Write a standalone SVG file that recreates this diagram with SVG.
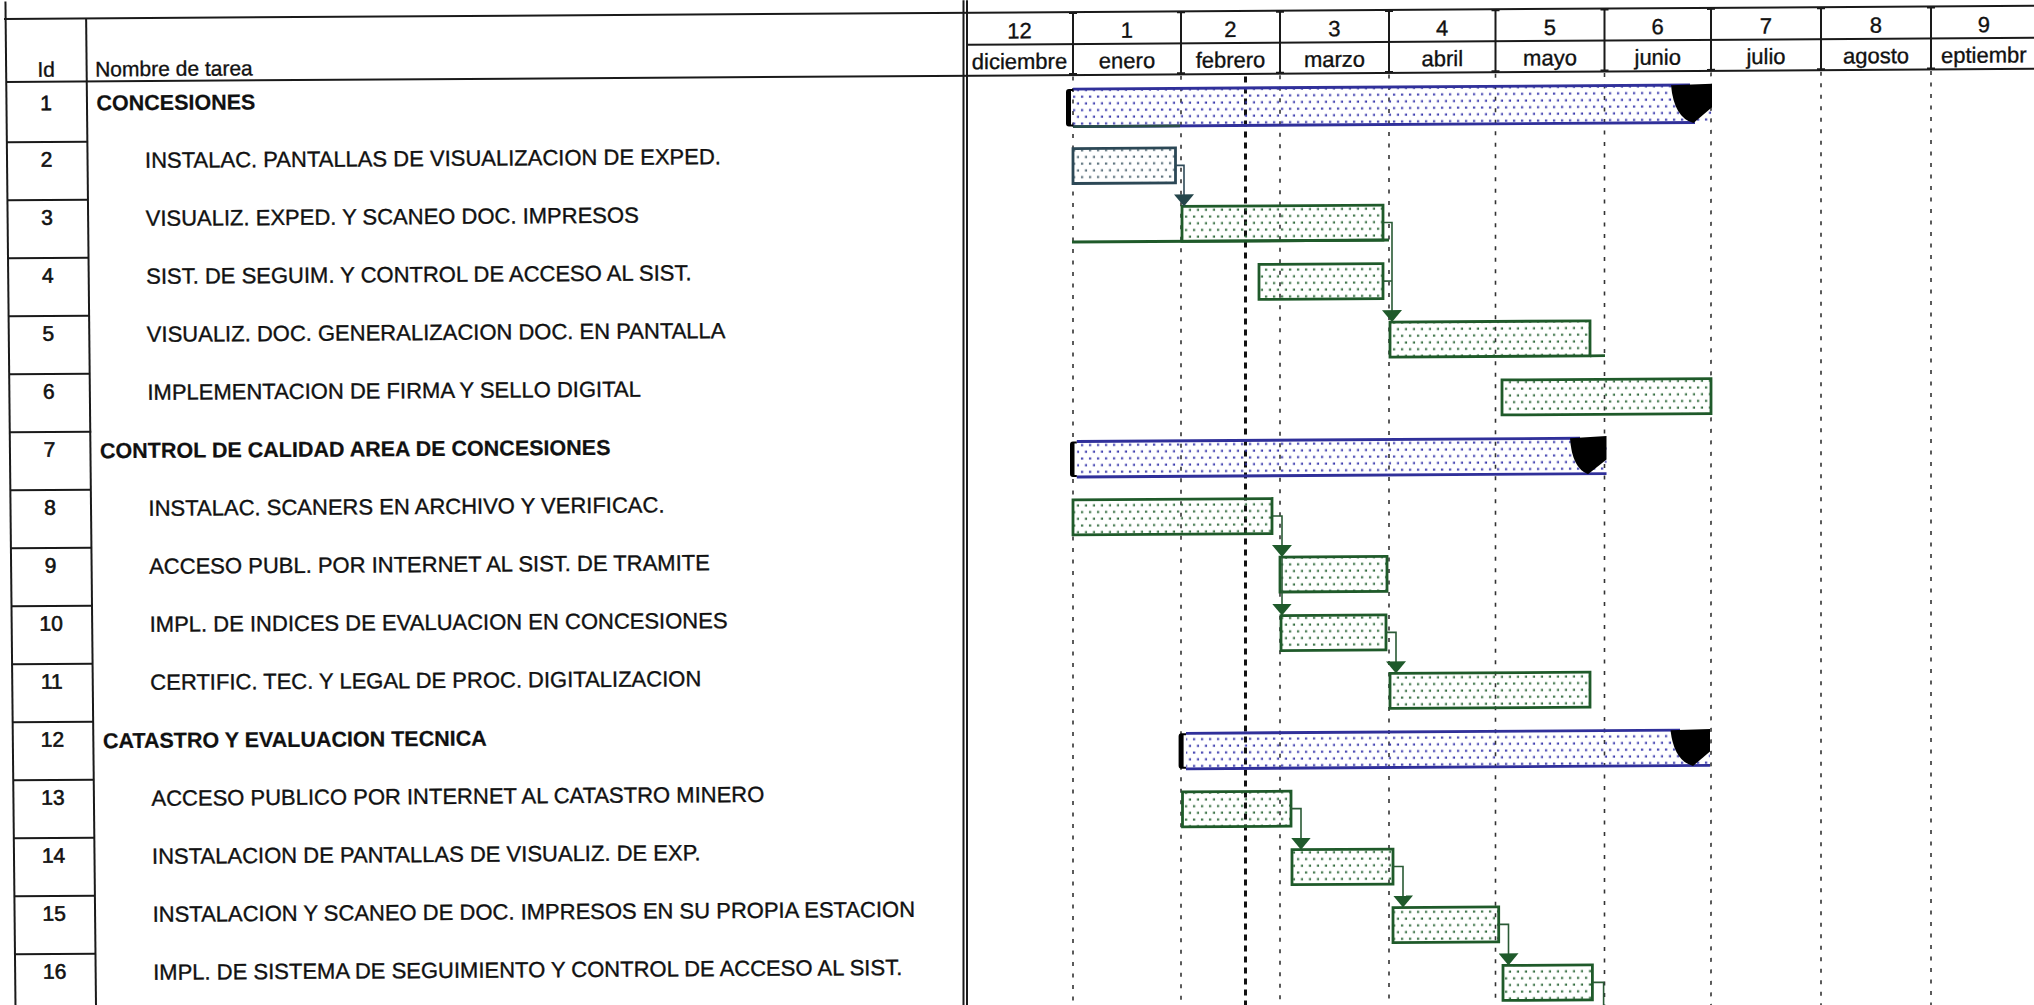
<svg xmlns="http://www.w3.org/2000/svg" width="2034" height="1005" viewBox="0 0 2034 1005">
<style>
text{font-family:"Liberation Sans",Arial,sans-serif;fill:#111;stroke:#111;stroke-width:0.35}
.hd{font-size:22px;text-anchor:middle}
.hl{font-size:21px}
.id{font-size:21px;text-anchor:middle;stroke-width:0.6}
.t{font-size:22px}
.s{font-size:21.5px;font-weight:bold;stroke-width:0.2}
.ln{stroke:#1a1a1a;stroke-width:2;fill:none}
.grid{stroke:#333;stroke-width:1.6;stroke-dasharray:4 7.5;fill:none}
.today{stroke:#111;stroke-width:3;stroke-dasharray:6 5;fill:none}
.bar{fill:url(#dg);stroke:#1f5a2a;stroke-width:2.8}
.bar2{fill:url(#ds);stroke:#2c4856;stroke-width:2.8}
.sum{fill:url(#db)}
.sumln{stroke:#30309a;stroke-width:2.8;fill:none}
.cap{fill:#000}
</style>
<defs>
<pattern id="dg" width="8" height="13.4" patternUnits="userSpaceOnUse">
<rect x="1" y="2.4" width="2.1" height="2.1" fill="#2a6636"/>
<rect x="5" y="9.1" width="2.1" height="2.1" fill="#2a6636"/>
</pattern>
<pattern id="ds" width="8" height="13.4" patternUnits="userSpaceOnUse">
<rect x="1" y="2.4" width="2.1" height="2.1" fill="#4a626e"/>
<rect x="5" y="9.1" width="2.1" height="2.1" fill="#4a626e"/>
</pattern>
<pattern id="db" width="8" height="13.4" patternUnits="userSpaceOnUse">
<rect x="1" y="2.4" width="2.1" height="2.1" fill="#3434aa"/>
<rect x="5" y="9.1" width="2.1" height="2.1" fill="#3434aa"/>
</pattern>
<marker id="arr" viewBox="0 0 12 20" markerWidth="12" markerHeight="20" refX="12" refY="10" orient="auto" markerUnits="userSpaceOnUse">
<path d="M0,0 L12,10 L0,20 Z" fill="#1f5a2b"/>
</marker>
<marker id="arrS" viewBox="0 0 12 20" markerWidth="12" markerHeight="20" refX="12" refY="10" orient="auto" markerUnits="userSpaceOnUse">
<path d="M0,0 L12,10 L0,20 Z" fill="#24454a"/>
</marker>
</defs>
<rect width="2034" height="1005" fill="#fff"/>
<g transform="translate(0,6.5) skewY(-0.3724)">

<g id="grid">
<path class="grid" d="M1073,77V1015M1181,77V1015M1280,77V1015M1389,77V1015M1495.5,77V1015M1604.5,77V1015M1711,77V1015M1821,77V1015M1931,77V1015"/>
<path class="today" d="M1245.5,78V1015"/>
</g>

<g id="header">
<path class="ln" d="M4,12.5H2040"/>
<path class="ln" d="M966,44.5H2040"/>
<path class="ln" stroke-width="2.5" d="M6,75.5H2040"/>
<path class="ln" stroke-width="1.5" d="M963.5,0V1015"/>
<path class="ln" d="M967,0V1015"/>
<path class="ln" d="M1073,12.5V75.5M1181,12.5V75.5M1280,12.5V75.5M1389,12.5V75.5M1495.5,12.5V75.5M1604.5,12.5V75.5M1711,12.5V75.5M1821,12.5V75.5M1931,12.5V75.5"/>
<path class="ln" d="M1069,13.5h8M1177,13.5h8M1276,13.5h8M1385,13.5h8M1491.5,13.5h8M1600.5,13.5h8M1707,13.5h8M1817,13.5h8M1927,13.5h8M1069,74.5h8M1177,74.5h8M1276,74.5h8M1385,74.5h8M1491.5,74.5h8M1600.5,74.5h8M1707,74.5h8M1817,74.5h8M1927,74.5h8"/>
<text class="hd" x="1019.5" y="38.5">12</text>
<text class="hd" x="1127" y="38.5">1</text>
<text class="hd" x="1230.5" y="38.5">2</text>
<text class="hd" x="1334.5" y="38.5">3</text>
<text class="hd" x="1442.25" y="38.5">4</text>
<text class="hd" x="1550" y="38.5">5</text>
<text class="hd" x="1657.75" y="38.5">6</text>
<text class="hd" x="1766" y="38.5">7</text>
<text class="hd" x="1876" y="38.5">8</text>
<text class="hd" x="1984" y="38.5">9</text>
<text class="hd" x="1019.5" y="69">diciembre</text>
<text class="hd" x="1127" y="69">enero</text>
<text class="hd" x="1230.5" y="69">febrero</text>
<text class="hd" x="1334.5" y="69">marzo</text>
<text class="hd" x="1442.25" y="69">abril</text>
<text class="hd" x="1550" y="69">mayo</text>
<text class="hd" x="1657.75" y="69">junio</text>
<text class="hd" x="1766" y="69">julio</text>
<text class="hd" x="1876" y="69">agosto</text>
<text class="hd" x="1941" y="69" style="text-anchor:start">eptiembr</text>
<g transform="matrix(1,0,0.01,1,-5,0)">
<path class="ln" d="M10.5,-5V1015"/>
<path class="ln" d="M91,12.5V1015"/>
<path class="ln" d="M10.5,135.8H91M10.5,193.8H91M10.5,251.8H91M10.5,309.8H91M10.5,367.8H91M10.5,425.8H92M10.5,483.8H91M10.5,541.8H91M10.5,599.8H91M10.5,657.8H91M10.5,715.8H91M10.5,773.8H91M10.5,831.8H91M10.5,889.8H91M10.5,947.8H91"/>
<text class="id" x="50.5" y="70.5" style="stroke-width:0.35">Id</text>
<text class="hl" x="99.5" y="70.5">Nombre de tarea</text>
</g>
</g>

<g id="task-1">
<g transform="matrix(1,0,0.01,1,-5,0)"><text class="id" x="50" y="104">1</text><text class="s" x="100.5" y="104.5">CONCESIONES</text></g>
<rect class="sum" x="1073" y="89.5" width="639" height="37.5"/>
<path class="sumln" d="M1073,89.5H1690M1073,127H1695"/>
<path d="M1073,127H1180" stroke="#2a4f48" stroke-width="2.8" fill="none"/>
<path class="cap" d="M1066,89.5H1073.3V91.5H1071V125H1073.3V127H1069Q1066,127 1066,124V92.5Q1066,89.5 1069,89.5Z"/>
<path class="cap" d="M1671,89.5L1712,88.5V112L1693.5,127.5Q1674,122 1671,89.5Z"/>
</g>
<g id="task-2">
<g transform="matrix(1,0,0.01,1,-5,0)"><text class="id" x="50" y="160.6">2</text><text class="t" x="148.5" y="162.3">INSTALAC. PANTALLAS DE VISUALIZACION DE EXPED.</text></g>
<rect class="bar2" x="1073" y="149" width="102.5" height="35"/>
</g>
<g id="task-3">
<g transform="matrix(1,0,0.01,1,-5,0)"><text class="id" x="50" y="218.6">3</text><text class="t" x="148.5" y="220.3">VISUALIZ. EXPED. Y SCANEO DOC. IMPRESOS</text></g>
<rect class="bar" x="1182" y="207.55" width="201" height="35"/>
<path d="M1072,242.55H1389" stroke="#1f5a2a" stroke-width="3" fill="none"/>
</g>
<g id="task-4">
<g transform="matrix(1,0,0.01,1,-5,0)"><text class="id" x="50" y="276.6">4</text><text class="t" x="148.5" y="278.3">SIST. DE SEGUIM. Y CONTROL DE ACCESO AL SIST.</text></g>
<rect class="bar" x="1259" y="266.1" width="124" height="35"/>
</g>
<g id="task-5">
<g transform="matrix(1,0,0.01,1,-5,0)"><text class="id" x="50" y="334.6">5</text><text class="t" x="148.5" y="336.3">VISUALIZ. DOC. GENERALIZACION DOC. EN PANTALLA</text></g>
<rect class="bar" x="1390" y="324.65" width="200" height="35"/>
<path d="M1590,359.65H1605" stroke="#1f5a2a" stroke-width="2.8" fill="none"/>
</g>
<g id="task-6">
<g transform="matrix(1,0,0.01,1,-5,0)"><text class="id" x="50" y="392.6">6</text><text class="t" x="148.5" y="394.3">IMPLEMENTACION DE FIRMA Y SELLO DIGITAL</text></g>
<rect class="bar" x="1502" y="383.2" width="209" height="35"/>
</g>
<g id="task-7">
<g transform="matrix(1,0,0.01,1,-5,0)"><text class="id" x="50" y="450.6">7</text><text class="s" x="100.5" y="452.3">CONTROL DE CALIDAD AREA DE CONCESIONES</text></g>
<rect class="sum" x="1076.8" y="442" width="529.7" height="35.5"/>
<path class="sumln" d="M1076.8,442H1580M1076.8,477.5H1606.5"/>
<path class="cap" d="M1070,442H1076.8V444H1074.5V475.5H1076.8V477.5H1073Q1070,477.5 1070,474.5V445Q1070,442 1073,442Z"/>
<path class="cap" d="M1570,442L1606.5,440V463.5L1588,478Q1572,472 1570,442Z"/>
</g>
<g id="task-8">
<g transform="matrix(1,0,0.01,1,-5,0)"><text class="id" x="50" y="508.6">8</text><text class="t" x="148.5" y="510.3">INSTALAC. SCANERS EN ARCHIVO Y VERIFICAC.</text></g>
<rect class="bar" x="1073" y="500.3" width="199" height="35"/>
</g>
<g id="task-9">
<g transform="matrix(1,0,0.01,1,-5,0)"><text class="id" x="50" y="566.6">9</text><text class="t" x="148.5" y="568.3">ACCESO PUBL. POR INTERNET AL SIST. DE TRAMITE</text></g>
<rect class="bar" x="1280" y="558.85" width="107" height="35"/>
</g>
<g id="task-10">
<g transform="matrix(1,0,0.01,1,-5,0)"><text class="id" x="50" y="624.6">10</text><text class="t" x="148.5" y="626.3">IMPL. DE INDICES DE EVALUACION EN CONCESIONES</text></g>
<rect class="bar" x="1281" y="617.4" width="105" height="35"/>
</g>
<g id="task-11">
<g transform="matrix(1,0,0.01,1,-5,0)"><text class="id" x="50" y="682.6">11</text><text class="t" x="148.5" y="684.3">CERTIFIC. TEC. Y LEGAL DE PROC. DIGITALIZACION</text></g>
<rect class="bar" x="1390" y="675.95" width="200" height="35"/>
</g>
<g id="task-12">
<g transform="matrix(1,0,0.01,1,-5,0)"><text class="id" x="50" y="740.6">12</text><text class="s" x="100.5" y="742.3">CATASTRO Y EVALUACION TECNICA</text></g>
<rect class="sum" x="1186" y="734.5" width="524" height="35.5"/>
<path class="sumln" d="M1186,734.5H1680M1186,770H1710"/>
<path class="cap" d="M1178.6,734.5H1186V736.5H1183.6V768H1186V770H1181.6Q1178.6,770 1178.6,767V737.5Q1178.6,734.5 1181.6,734.5Z"/>
<path class="cap" d="M1670.5,734.5L1710,733.5V756L1693,770.5Q1674,765 1670.5,734.5Z"/>
</g>
<g id="task-13">
<g transform="matrix(1,0,0.01,1,-5,0)"><text class="id" x="50" y="798.6">13</text><text class="t" x="148.5" y="800.3">ACCESO PUBLICO POR INTERNET AL CATASTRO MINERO</text></g>
<rect class="bar" x="1182.5" y="793.05" width="108.5" height="35"/>
</g>
<g id="task-14">
<g transform="matrix(1,0,0.01,1,-5,0)"><text class="id" x="50" y="856.6">14</text><text class="t" x="148.5" y="858.3">INSTALACION DE PANTALLAS DE VISUALIZ. DE EXP.</text></g>
<rect class="bar" x="1292" y="851.6" width="101" height="35"/>
</g>
<g id="task-15">
<g transform="matrix(1,0,0.01,1,-5,0)"><text class="id" x="50" y="914.6">15</text><text class="t" x="148.5" y="916.3">INSTALACION Y SCANEO DE DOC. IMPRESOS EN SU PROPIA ESTACION</text></g>
<rect class="bar" x="1393" y="910.15" width="105.7" height="35"/>
</g>
<g id="task-16">
<g transform="matrix(1,0,0.01,1,-5,0)"><text class="id" x="50" y="972.6">16</text><text class="t" x="148.5" y="974.3">IMPL. DE SISTEMA DE SEGUIMIENTO Y CONTROL DE ACCESO AL SIST.</text></g>
<rect class="bar" x="1503" y="968.7" width="89.4" height="35"/>
</g>

<g id="connectors" fill="none" stroke="#2a5a35" stroke-width="1.6">
<path d="M1175.5,166.5H1184V207.55" stroke="#2f4a58" marker-end="url(#arrS)"/>
<path d="M1383,225H1392V324.65" marker-end="url(#arr)"/>
<path d="M1383,283.6H1392"/>
<path d="M1272,517.8H1282V558.85" marker-end="url(#arr)"/>
<path d="M1282,558.85V617.4" marker-end="url(#arr)"/>
<path d="M1386,634.9H1396V675.95" marker-end="url(#arr)"/>
<path d="M1291,810.5H1301V851.6" marker-end="url(#arr)"/>
<path d="M1393,869.1H1403V910.15" marker-end="url(#arr)"/>
<path d="M1498.7,927.6H1508.5V968.7" marker-end="url(#arr)"/>
<path d="M1592.4,986.2H1603.6V1015"/>
</g>
</g>
</svg>
